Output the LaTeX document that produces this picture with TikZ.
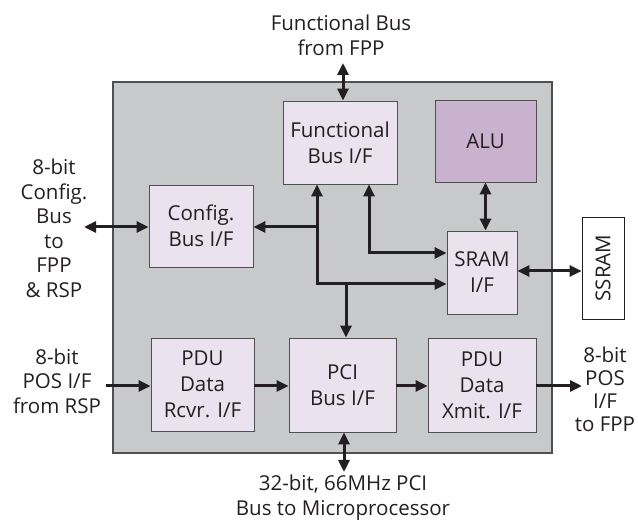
\documentclass[tikz,border=0pt]{standalone}
\usepackage{fontspec}
\setmainfont{Open Sans}
\usetikzlibrary{arrows.meta}
\definecolor{bggray}{RGB}{200,201,203}
\definecolor{boxfill}{RGB}{234,227,239}
\definecolor{alufill}{RGB}{201,178,205}
\definecolor{ink}{RGB}{35,31,32}
\definecolor{edge}{RGB}{80,80,80}
\tikzset{
  blk/.style={draw=edge, line width=0.9pt, fill=boxfill, align=center, inner sep=0pt,
    font=\fontsize{20.5}{26}\selectfont, text=ink},
  lbl/.style={align=center, inner sep=0pt, font=\fontsize{20.5}{24.5}\selectfont, text=ink},
  conn/.style={draw=ink, line width=3pt},
  arr/.style={conn, -{Triangle[length=12pt,width=11pt]}},
  dbl/.style={conn, {Triangle[length=12pt,width=11pt]}-{Triangle[length=12pt,width=11pt]}},
}
\begin{document}
\begin{tikzpicture}[x=1pt,y=-1pt]
\useasboundingbox (0,0) rectangle (638,521);
% chip background
\node[draw=edge, line width=1.2pt, fill=bggray, minimum width=439pt, minimum height=371pt, inner sep=0pt] (chip) at (332.5,267.5) {};
% blocks
\node[blk, minimum width=114pt, minimum height=83pt] (fbus) at (340,142.5) {Functional\\Bus I/F};
\node[blk, fill=alufill, minimum width=101pt, minimum height=82pt] (alu) at (485.5,141) {ALU};
\node[blk, minimum width=104pt, minimum height=82pt] (cfg) at (201,226) {Config.\\Bus I/F};
\node[blk, minimum width=70pt, minimum height=83pt] (sram) at (482,272.5) {SRAM\\I/F};
\node[blk, minimum width=103pt, minimum height=93pt] (rcvr) at (202.5,384.5) {PDU\\Data\\Rcvr. I/F};
\node[blk, minimum width=107pt, minimum height=94pt] (pci) at (342.5,385) {PCI\\Bus I/F};
\node[blk, minimum width=108pt, minimum height=94pt] (xmit) at (482,385) {PDU\\Data\\Xmit. I/F};
\node[blk, fill=white, draw=ink, minimum width=42pt, minimum height=102pt] (ssram) at (603,268) {};
\node[lbl, rotate=90] (ssramt) at (ssram.center) {SSRAM};
% outside labels
\node[lbl] (ttop) at (341,35.5) {Functional Bus\\from FPP};
\node[lbl] (tcfg) at (54,228.5) {8-bit\\Config.\\Bus\\to\\FPP\\\& RSP};
\node[lbl] (tposin) at (57,381) {8-bit\\POS I/F\\from RSP};
\node[lbl, font=\fontsize{20.5}{23}\selectfont] (tposout) at (605,389) {8-bit\\POS\\I/F\\to FPP};
\node[lbl] (tbot) at (343,497.5) {32-bit, 66MHz PCI\\Bus to Microprocessor};
% coordinates
\coordinate (ftop) at (343,63);
\coordinate (cleft) at (84,227);
\coordinate (j1) at (317,284);
\coordinate (j2) at (317,227);
\coordinate (j3) at (369,253);
\coordinate (j4) at (346,284);
\coordinate (s1) at (0,271);
\coordinate (pin) at (106,386);
\coordinate (pout) at (582,386);
\coordinate (pbot) at (344,472);
% connectors
\draw[dbl] (ftop) -- (ftop |- fbus.north);
\draw[dbl] (cleft) -- (cleft -| cfg.west);
\draw[dbl] (fbus.south -| j1) -- (j1) -- (j1 -| sram.west);
\draw[arr] (j2) -- (j2 -| cfg.east);
\draw[dbl] (fbus.south -| j3) -- (j3) -- (j3 -| sram.west);
\draw[dbl] (alu.south) -- (alu.south |- sram.north);
\draw[arr] (j4) -- (j4 |- pci.north);
\draw[dbl] (sram.east |- s1) -- (ssram.west |- s1);
\draw[arr] (pin) -- (pin -| rcvr.west);
\draw[arr] (rcvr.east |- pin) -- (pci.west |- pin);
\draw[arr] (pci.east |- pin) -- (xmit.west |- pin);
\draw[arr] (xmit.east |- pin) -- (pout);
\draw[dbl] (pci.south -| pbot) -- (pbot);
\end{tikzpicture}
\end{document}
